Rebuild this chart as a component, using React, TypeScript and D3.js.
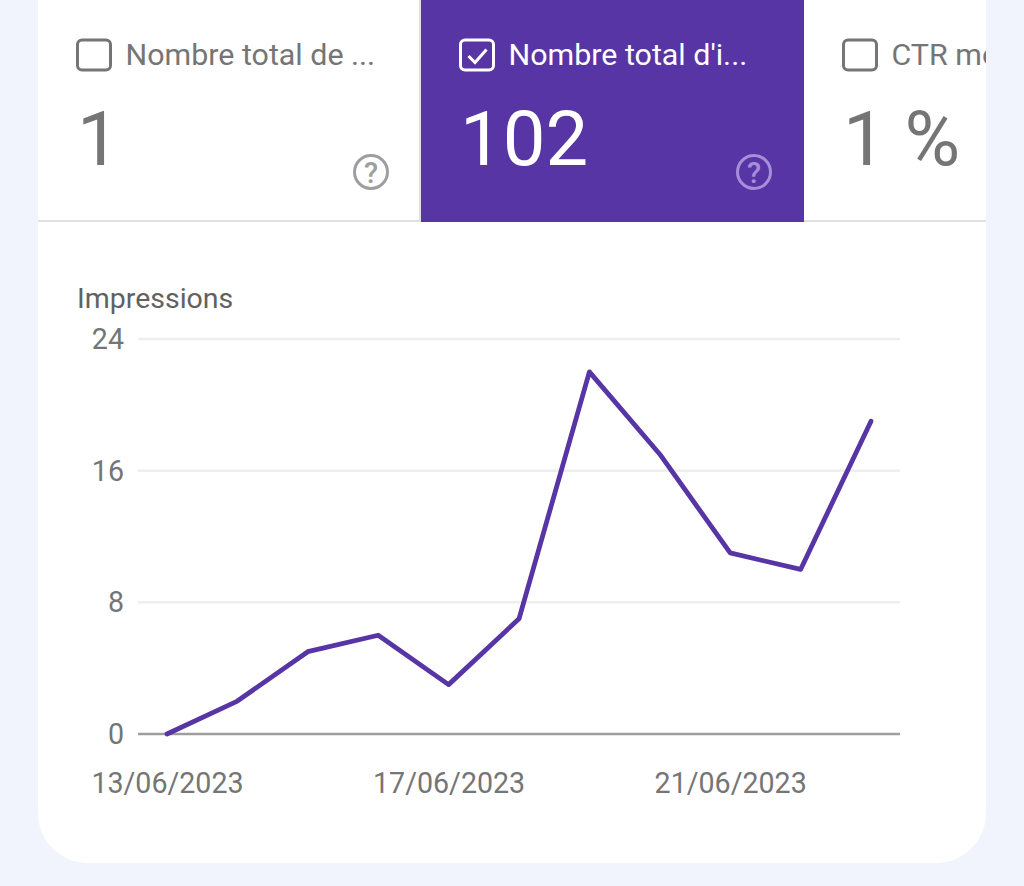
import React from "react";
import * as d3 from "d3";

const dates = ["2023-06-13","2023-06-14","2023-06-15","2023-06-16","2023-06-17","2023-06-18","2023-06-19","2023-06-20","2023-06-21","2023-06-22","2023-06-23"];
const impressions = [0, 2, 5, 6, 3, 7, 22, 17, 11, 10, 19];
const yTicks = [0, 8, 16, 24];
const xTickDates = ["2023-06-13", "2023-06-17", "2023-06-21"];
const xTickLabels = ["13/06/2023", "17/06/2023", "21/06/2023"];
const yTitle = "Impressions";

const FONT = "Roboto, sans-serif";
const PURPLE = "#5735a5";
const GREY = "#757575";

const parse = d3.utcParse("%Y-%m-%d");

function Checkbox({ x, y, color, checked }: { x: number; y: number; color: string; checked?: boolean }) {
  return (
    <g>
      <rect x={x} y={y} width={33} height={30} rx={4.5} fill="none" stroke={color} strokeWidth={3} />
      {checked && (
        <path d={`M${x + 8} ${y + 16}l6.5 6.5l11.5 -13`} fill="none" stroke={color} strokeWidth={3} />
      )}
    </g>
  );
}

function Help({ cx, cy, color }: { cx: number; cy: number; color: string }) {
  return (
    <g>
      <circle cx={cx} cy={cy} r={16.5} fill="none" stroke={color} strokeWidth={3} />
      <text x={cx} y={cy + 10.5} textAnchor="middle" fontFamily={FONT} fontSize={29} fontWeight={500} fill={color}>?</text>
    </g>
  );
}

export default function App() {
  const x = d3.scaleUtc()
    .domain([parse(dates[0])!, parse(dates[dates.length - 1])!])
    .range([167, 871]);
  const y = d3.scaleLinear().domain([0, 24]).range([734, 339]);
  const line = d3.line<number>()
    .x((_, i) => x(parse(dates[i])!))
    .y((d) => y(d));

  return (
    <svg width={1024} height={886} viewBox="0 0 1024 886" style={{ position: "absolute", left: 0, top: 0, display: "block" }}>
      <defs>
        <clipPath id="cardClip"><rect x={38} y={-60} width={948} height={923} rx={50} /></clipPath>
      </defs>
      <rect width={1024} height={886} fill="#f1f4fd" />
      <rect x={38} y={-60} width={948} height={923} rx={50} fill="#ffffff" />
      <g clipPath="url(#cardClip)">
        <rect x={38} y={220} width={948} height={2} fill="#e0e0e0" />
        <rect x={419} y={0} width={2} height={221} fill="#e0e0e0" />
        <rect x={421} y={0} width={383} height={222} fill={PURPLE} />

        <Checkbox x={77.5} y={40} color={GREY} />
        <text x={125.5} y={65} fontFamily={FONT} fontSize={30.4} fill={GREY}>Nombre total de ...</text>
        <text x={77} y={165} fontFamily={FONT} fontSize={76} fill={GREY}>1</text>
        <Help cx={371} cy={172} color="#9e9e9e" />

        <Checkbox x={460.5} y={40} color="#ffffff" checked />
        <text x={508.5} y={65} fontFamily={FONT} fontSize={30.4} fill="#ffffff">Nombre total d'i...</text>
        <text x={460} y={165} fontFamily={FONT} fontSize={76} fill="#ffffff">102</text>
        <Help cx={754} cy={172} color="#a78fd8" />

        <Checkbox x={843.5} y={40} color={GREY} />
        <text x={891.5} y={65} fontFamily={FONT} fontSize={30.4} fill={GREY}>CTR moyen</text>
        <text x={843} y={165} fontFamily={FONT} fontSize={76} fill={GREY}>1 %</text>
      </g>

      <text x={77} y={308} fontFamily={FONT} fontSize={28.5} fill="#616161">{yTitle}</text>

      {yTicks.map((t) => (
        <g key={t}>
          <line x1={138} x2={900} y1={y(t)} y2={y(t)} stroke={t === 0 ? "#9e9e9e" : "#eeeeee"} strokeWidth={2.5} />
          <text x={124} y={y(t) + 10} textAnchor="end" fontFamily={FONT} fontSize={28.6} fill={GREY}>{t}</text>
        </g>
      ))}

      {xTickDates.map((d, i) => (
        <text key={d} x={x(parse(d)!) + 0.5} y={793} textAnchor="middle" fontFamily={FONT} fontSize={28.6} fill={GREY}>{xTickLabels[i]}</text>
      ))}

      <path d={line(impressions) ?? ""} fill="none" stroke={PURPLE} strokeWidth={4.8} strokeLinejoin="round" strokeLinecap="round" />
    </svg>
  );
}
